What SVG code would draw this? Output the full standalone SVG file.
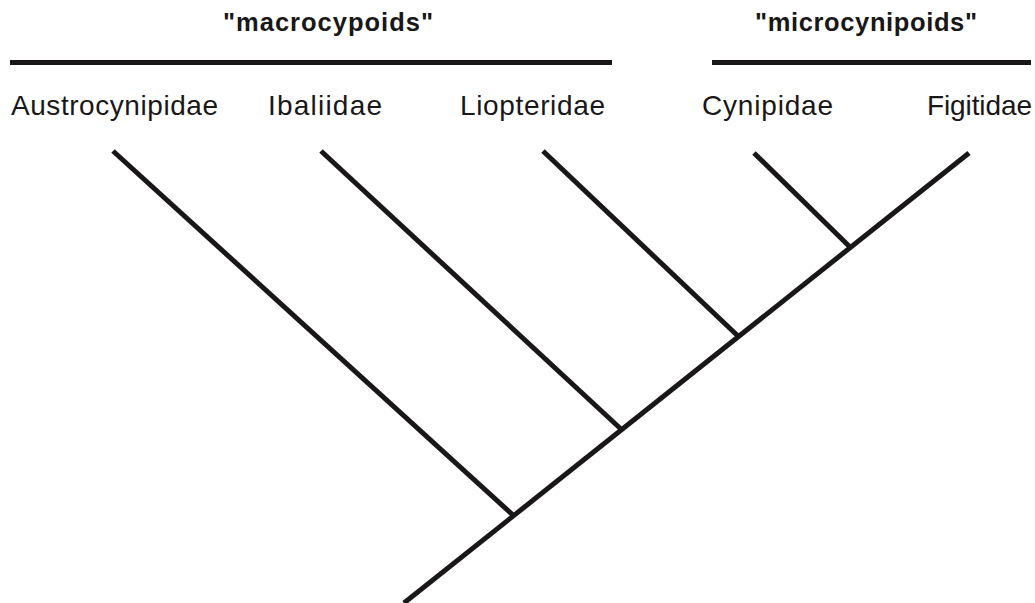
<svg xmlns="http://www.w3.org/2000/svg" width="1035" height="603" viewBox="0 0 1035 603">
<style>
.br{stroke:#1a1718;stroke-width:5;fill:none;stroke-linecap:butt}
.bar{stroke:#1a1718;stroke-width:5}
.t{font-family:"Liberation Sans",Arial,sans-serif;font-size:28px;fill:#1a1718}
.h{font-family:"Liberation Sans",Arial,sans-serif;font-size:25.5px;font-weight:bold;fill:#1a1718}
</style>
<rect width="1035" height="603" fill="#fff"/>
<g id="group-macro">
<text class="h" x="223" y="31" textLength="210" lengthAdjust="spacing">"macrocypoids"</text>
<line class="bar" x1="10" y1="62.5" x2="612" y2="62.5"/>
</g>
<g id="group-micro">
<text class="h" x="755" y="31" textLength="222" lengthAdjust="spacing">"microcynipoids"</text>
<line class="bar" x1="712" y1="62.5" x2="1031" y2="62.5"/>
</g>
<g id="taxon-austrocynipidae"><text class="t" x="11" y="115" textLength="207" lengthAdjust="spacing">Austrocynipidae</text></g>
<g id="taxon-ibaliidae"><text class="t" x="268" y="115" textLength="114" lengthAdjust="spacing">Ibaliidae</text></g>
<g id="taxon-liopteridae"><text class="t" x="460" y="115" textLength="145" lengthAdjust="spacing">Liopteridae</text></g>
<g id="taxon-cynipidae"><text class="t" x="702" y="115" textLength="131" lengthAdjust="spacing">Cynipidae</text></g>
<g id="taxon-figitidae"><text class="t" x="927" y="115" textLength="105" lengthAdjust="spacing">Figitidae</text></g>
<g id="connectors">
<line class="br" x1="404" y1="603" x2="969" y2="153"/>
<line class="br" x1="113" y1="151" x2="514" y2="516"/>
<line class="br" x1="321" y1="151" x2="622" y2="430"/>
<line class="br" x1="543" y1="151" x2="739" y2="337"/>
<line class="br" x1="754" y1="153" x2="851" y2="248"/>
</g>
</svg>
